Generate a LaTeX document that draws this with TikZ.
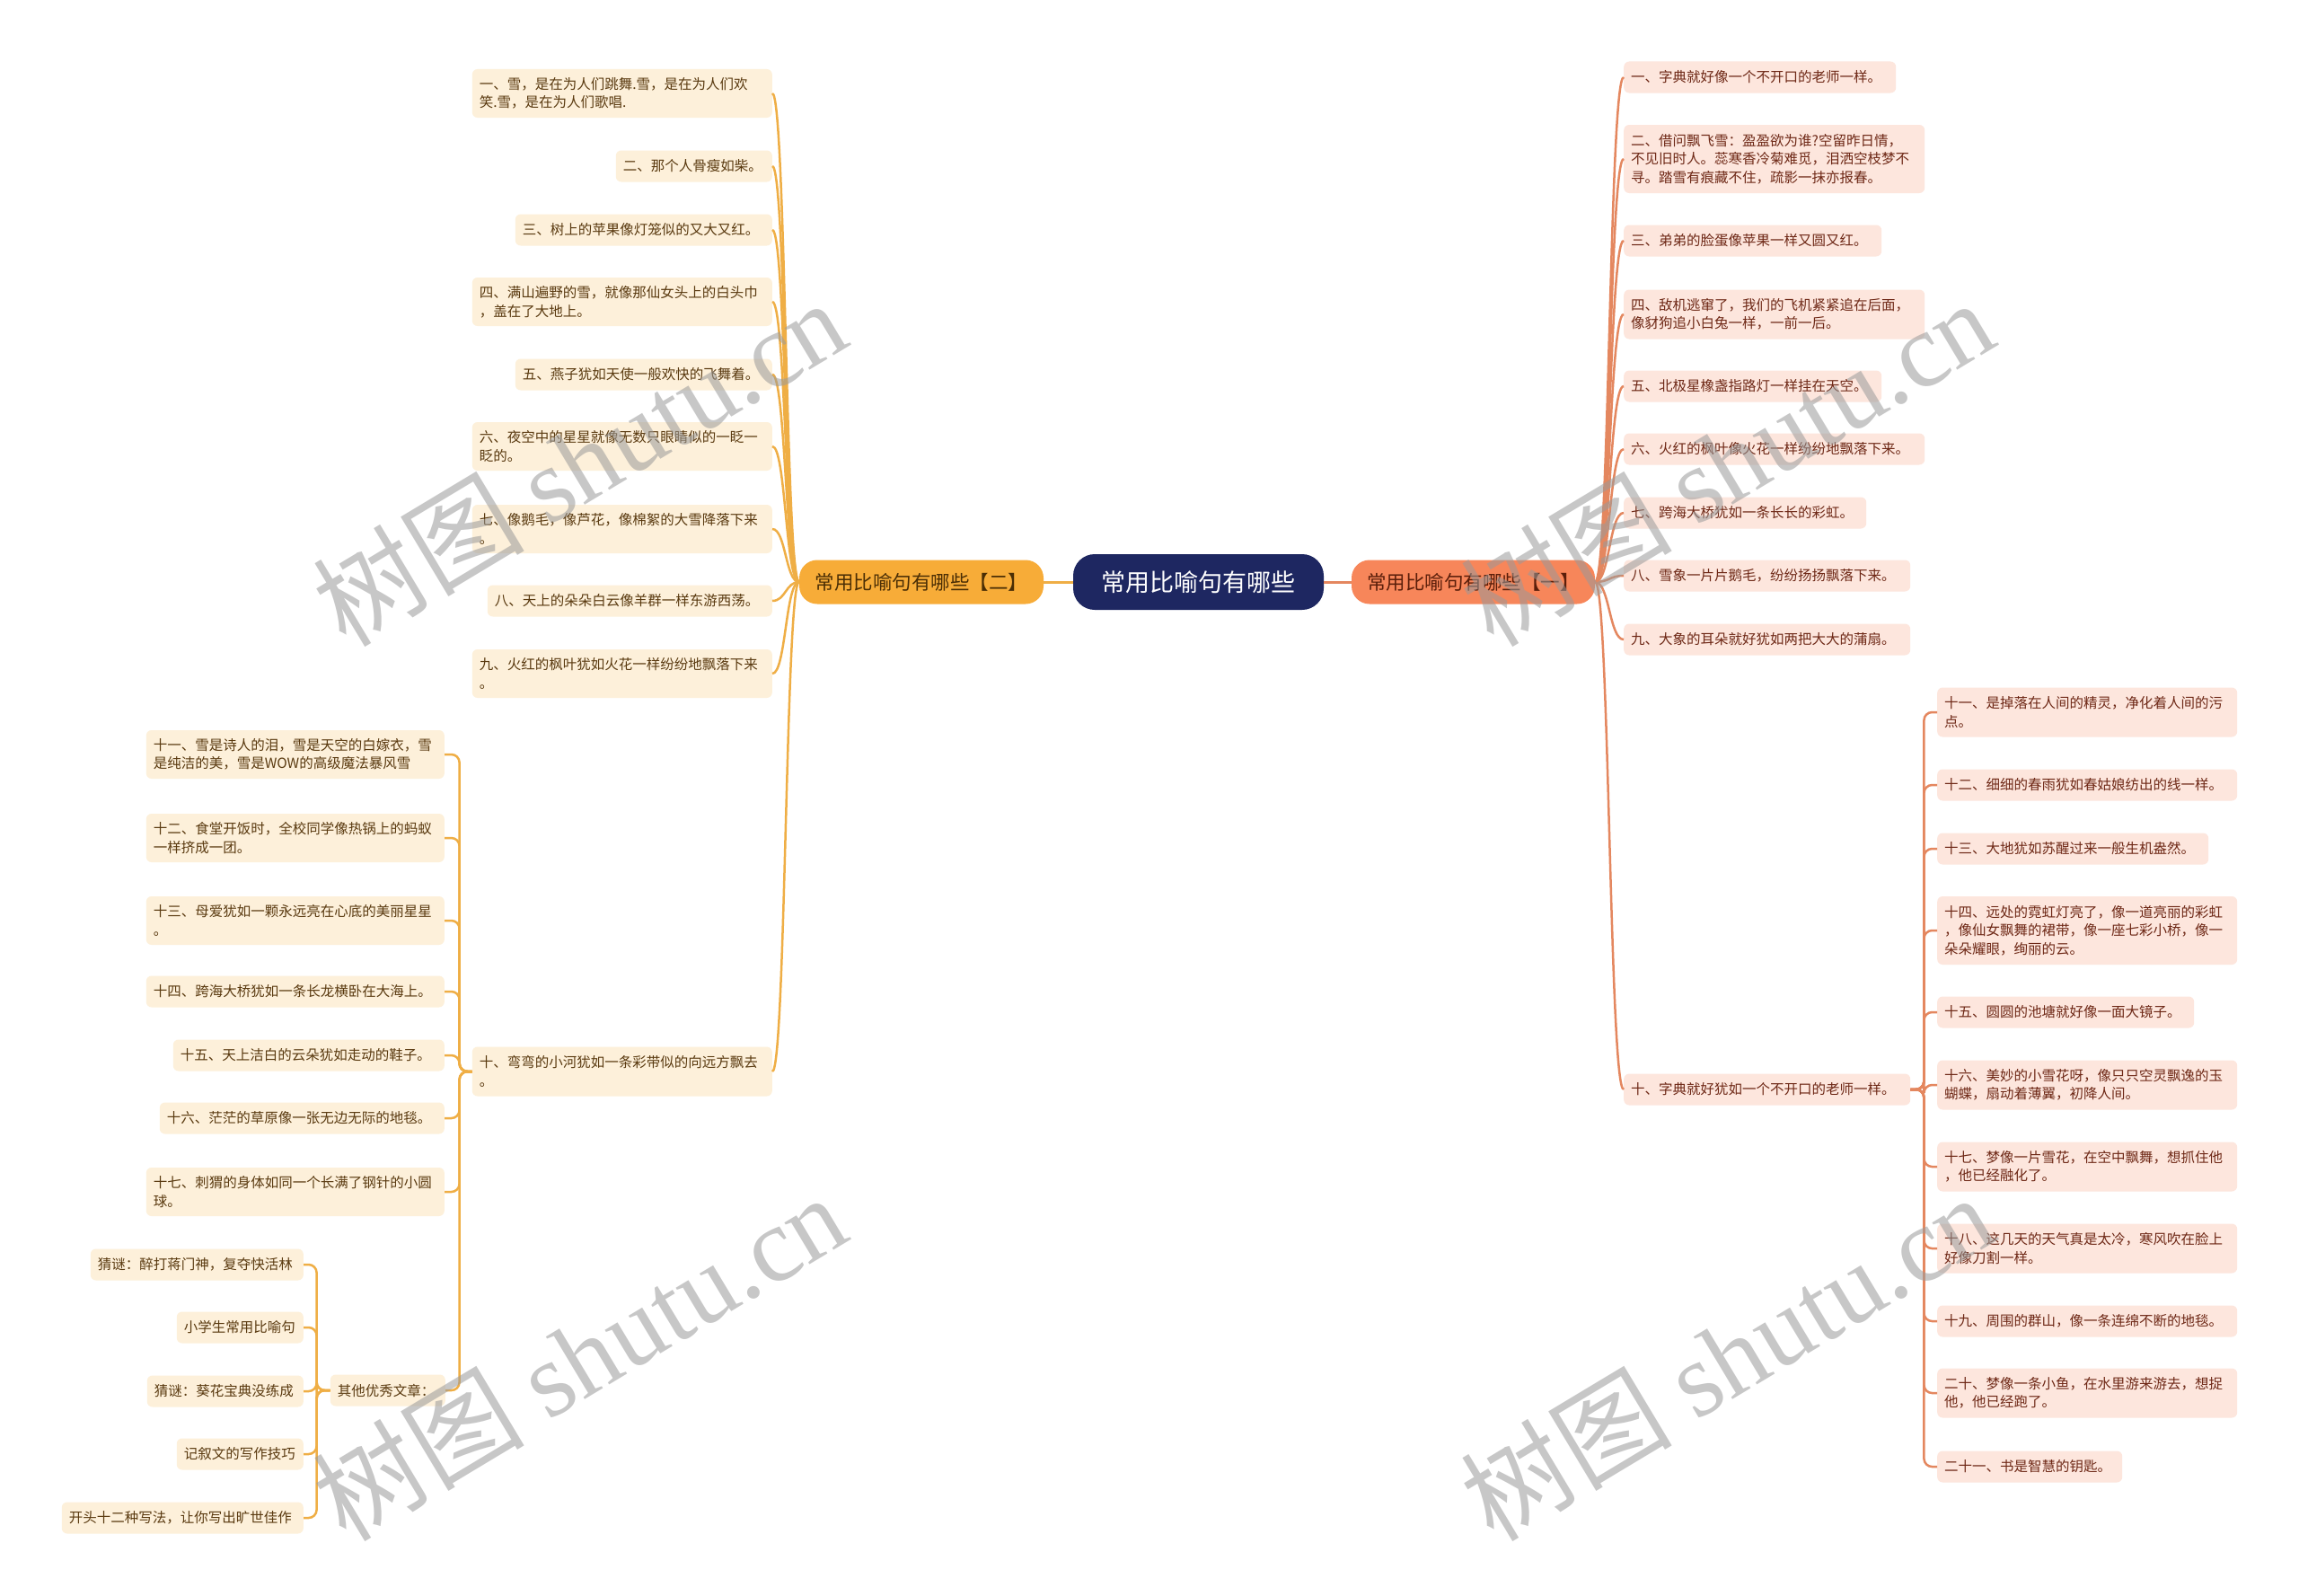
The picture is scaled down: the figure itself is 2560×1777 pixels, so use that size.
\documentclass[tikz,border=0pt]{standalone}
\usepackage{fontspec}
\newfontfamily\cjk{Noto Sans CJK SC}
\newfontfamily\wmserif{Liberation Serif}
\definecolor{navy}{HTML}{1E2761}
\definecolor{gold}{HTML}{F7AC38}
\definecolor{salmon}{HTML}{F7865A}
\definecolor{lfill}{HTML}{FDF0DA}
\definecolor{rfill}{HTML}{FDE6DD}
\definecolor{ltext}{HTML}{5A3A10}
\definecolor{rtext}{HTML}{6E2816}
\definecolor{glc}{HTML}{EFAE45}
\definecolor{rlc}{HTML}{E4875F}
\definecolor{btwo}{HTML}{4A2E05}
\definecolor{bone}{HTML}{5A1E0A}
\definecolor{wmc}{HTML}{9A9A9A}
\begin{document}
\begin{tikzpicture}[x=1pt,y=-1pt,
  leaf/.style={rounded corners=6pt, font=\cjk\fontsize{15.5}{20.5}\selectfont, align=left, inner xsep=8pt, inner ysep=0pt},
  lnode/.style={leaf, fill=lfill, text=ltext, anchor=east},
  rnode/.style={leaf, fill=rfill, text=rtext, anchor=west},
  gl/.style={draw=glc, line width=2.5pt},
  rl/.style={draw=rlc, line width=2.5pt},
  wm/.style={text=wmc, opacity=0.55, rotate=31, inner sep=0pt, font=\cjk\fontsize{118}{118}\selectfont}]
\useasboundingbox[fill=white] (0,0) rectangle (2560,1777);

% central and branch nodes
\node[fill=navy, text=white, rounded corners=24pt, minimum width=279pt, minimum height=62pt, inner sep=0pt, font=\cjk\fontsize{27}{30}\selectfont] (C) at (1334.5,648) {常用比喻句有哪些};
\node[fill=gold, text=btwo, rounded corners=20pt, minimum width=272pt, minimum height=49pt, inner sep=0pt, font=\cjk\fontsize{21.5}{25}\selectfont] (B2) at (1026,648) {常用比喻句有哪些【二】};
\node[fill=salmon, text=bone, rounded corners=20pt, minimum width=271pt, minimum height=49pt, inner sep=0pt, font=\cjk\fontsize{21.5}{25}\selectfont] (B1) at (1640.5,648) {常用比喻句有哪些【一】};

% left branch children
\node[lnode, text width=318pt, minimum height=54pt] (L1) at (860,104) {一、雪，是在为人们跳舞.雪，是在为人们欢\\笑.雪，是在为人们歌唱.};
\node[lnode, text width=158pt, minimum height=35pt] (L2) at (860,185) {二、那个人骨瘦如柴。};
\node[lnode, text width=270pt, minimum height=35pt] (L3) at (860,256) {三、树上的苹果像灯笼似的又大又红。};
\node[lnode, text width=318pt, minimum height=54pt] (L4) at (860,336) {四、满山遍野的雪，就像那仙女头上的白头巾\\，盖在了大地上。};
\node[lnode, text width=270pt, minimum height=35pt] (L5) at (860,417) {五、燕子犹如天使一般欢快的飞舞着。};
\node[lnode, text width=318pt, minimum height=54pt] (L6) at (860,497) {六、夜空中的星星就像无数只眼睛似的一眨一\\眨的。};
\node[lnode, text width=318pt, minimum height=54pt] (L7) at (860,589) {七、像鹅毛，像芦花，像棉絮的大雪降落下来\\。};
\node[lnode, text width=301pt, minimum height=35pt] (L8) at (860,669) {八、天上的朵朵白云像羊群一样东游西荡。};
\node[lnode, text width=318pt, minimum height=54pt] (L9) at (860,750) {九、火红的枫叶犹如火花一样纷纷地飘落下来\\。};
\node[lnode, text width=318pt, minimum height=55pt] (L10) at (860,1193) {十、弯弯的小河犹如一条彩带似的向远方飘去\\。};

\node[lnode, text width=316pt, minimum height=54pt] (M11) at (495,840) {十一、雪是诗人的泪，雪是天空的白嫁衣，雪\\是纯洁的美，雪是WOW的高级魔法暴风雪};
\node[lnode, text width=316pt, minimum height=54pt] (M12) at (495,933) {十二、食堂开饭时，全校同学像热锅上的蚂蚁\\一样挤成一团。};
\node[lnode, text width=316pt, minimum height=54pt] (M13) at (495,1025) {十三、母爱犹如一颗永远亮在心底的美丽星星\\。};
\node[lnode, text width=316pt, minimum height=35pt] (M14) at (495,1104) {十四、跨海大桥犹如一条长龙横卧在大海上。};
\node[lnode, text width=286pt, minimum height=35pt] (M15) at (495,1175) {十五、天上洁白的云朵犹如走动的鞋子。};
\node[lnode, text width=301pt, minimum height=35pt] (M16) at (495,1245) {十六、茫茫的草原像一张无边无际的地毯。};
\node[lnode, text width=316pt, minimum height=54pt] (M17) at (495,1327) {十七、刺猬的身体如同一个长满了钢针的小圆\\球。};
\node[lnode, text width=112pt, minimum height=35pt] (Oth) at (496,1548) {其他优秀文章：};

\node[lnode, text width=221pt, minimum height=35pt] (O1) at (338,1408) {猜谜：醉打蒋门神，复夺快活林};
\node[lnode, text width=125pt, minimum height=35pt] (O2) at (338,1478) {小学生常用比喻句};
\node[lnode, text width=158pt, minimum height=35pt] (O3) at (338,1549) {猜谜：葵花宝典没练成};
\node[lnode, text width=125pt, minimum height=35pt] (O4) at (338,1619) {记叙文的写作技巧};
\node[lnode, text width=253pt, minimum height=35pt] (O5) at (338,1690) {开头十二种写法，让你写出旷世佳作};

% right branch children
\node[rnode, text width=287pt, minimum height=35pt] (R1) at (1808,86) {一、字典就好像一个不开口的老师一样。};
\node[rnode, text width=319pt, minimum height=76pt] (R2) at (1808,177) {二、借问飘飞雪：盈盈欲为谁?空留昨日情，\\不见旧时人。蕊寒香冷菊难觅，泪洒空枝梦不\\寻。踏雪有痕藏不住，疏影一抹亦报春。};
\node[rnode, text width=271pt, minimum height=35pt] (R3) at (1808,268) {三、弟弟的脸蛋像苹果一样又圆又红。};
\node[rnode, text width=319pt, minimum height=55pt] (R4) at (1808,350) {四、敌机逃窜了，我们的飞机紧紧追在后面，\\像豺狗追小白兔一样，一前一后。};
\node[rnode, text width=271pt, minimum height=35pt] (R5) at (1808,430) {五、北极星橡盏指路灯一样挂在天空。};
\node[rnode, text width=319pt, minimum height=35pt] (R6) at (1808,500) {六、火红的枫叶像火花一样纷纷地飘落下来。};
\node[rnode, text width=254pt, minimum height=35pt] (R7) at (1808,571) {七、跨海大桥犹如一条长长的彩虹。};
\node[rnode, text width=303pt, minimum height=35pt] (R8) at (1808,641) {八、雪象一片片鹅毛，纷纷扬扬飘落下来。};
\node[rnode, text width=303pt, minimum height=35pt] (R9) at (1808,712) {九、大象的耳朵就好犹如两把大大的蒲扇。};
\node[rnode, text width=303pt, minimum height=35pt] (R10) at (1808,1213) {十、字典就好犹如一个不开口的老师一样。};

\node[rnode, text width=318pt, minimum height=55pt] (S11) at (2157,793) {十一、是掉落在人间的精灵，净化着人间的污\\点。};
\node[rnode, text width=318pt, minimum height=35pt] (S12) at (2157,874) {十二、细细的春雨犹如春姑娘纺出的线一样。};
\node[rnode, text width=286pt, minimum height=35pt] (S13) at (2157,945) {十三、大地犹如苏醒过来一般生机盎然。};
\node[rnode, text width=318pt, minimum height=76pt] (S14) at (2157,1036) {十四、远处的霓虹灯亮了，像一道亮丽的彩虹\\，像仙女飘舞的裙带，像一座七彩小桥，像一\\朵朵耀眼，绚丽的云。};
\node[rnode, text width=270pt, minimum height=35pt] (S15) at (2157,1127) {十五、圆圆的池塘就好像一面大镜子。};
\node[rnode, text width=318pt, minimum height=55pt] (S16) at (2157,1208) {十六、美妙的小雪花呀，像只只空灵飘逸的玉\\蝴蝶，扇动着薄翼，初降人间。};
\node[rnode, text width=318pt, minimum height=55pt] (S17) at (2157,1299) {十七、梦像一片雪花，在空中飘舞，想抓住他\\，他已经融化了。};
\node[rnode, text width=318pt, minimum height=55pt] (S18) at (2157,1390) {十八、这几天的天气真是太冷，寒风吹在脸上\\好像刀割一样。};
\node[rnode, text width=318pt, minimum height=35pt] (S19) at (2157,1471) {十九、周围的群山，像一条连绵不断的地毯。};
\node[rnode, text width=318pt, minimum height=55pt] (S20) at (2157,1551) {二十、梦像一条小鱼，在水里游来游去，想捉\\他，他已经跑了。};
\node[rnode, text width=190pt, minimum height=35pt] (S21) at (2157,1633) {二十一、书是智慧的钥匙。};

% connectors
\draw[gl, line width=3pt] (B2.east) -- (C.west);
\draw[rl, line width=3pt] (C.east) -- (B1.west);
\foreach \n in {L1,L2,L3,L4,L5,L6,L7,L8,L9,L10}
  \draw[gl] (B2.west) .. controls +(-15,0) and +(15,0) .. (\n.east);
\foreach \n in {R1,R2,R3,R4,R5,R6,R7,R8,R9,R10}
  \draw[rl] (B1.east) .. controls +(16,0) and +(-16,0) .. (\n.west);
\foreach \n in {M11,M12,M13,M14,M15,M16,M17,Oth}
  \draw[gl, rounded corners=9pt] (L10.west) -- ++(-14,0) |- (\n.east);
\foreach \n in {O1,O2,O3,O4,O5}
  \draw[gl, rounded corners=9pt] (Oth.west) -- ++(-15,0) |- (\n.east);
\foreach \n in {S11,S12,S13,S14,S15,S16,S17,S18,S19,S20,S21}
  \draw[rl, rounded corners=9pt] (R10.east) -- ++(15,0) |- (\n.west);

% watermarks
\node[wm] (W1) at (645,514) {树图 {\wmserif shutu.cn}};
\node[wm] (W2) at (1923,514) {树图 {\wmserif shutu.cn}};
\node[wm] (W3) at (645,1510) {树图 {\wmserif shutu.cn}};
\node[wm] (W4) at (1923,1510) {树图 {\wmserif shutu.cn}};
\end{tikzpicture}
\end{document}
